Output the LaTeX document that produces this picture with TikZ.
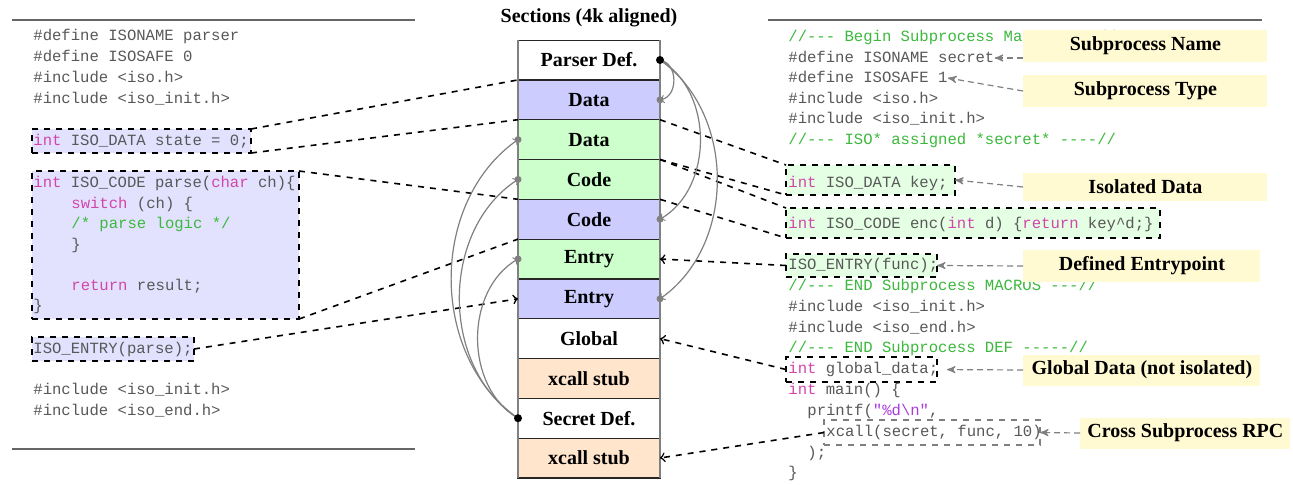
\documentclass[tikz,border=0pt]{standalone}
\usepackage{fontspec}
\setmainfont{Liberation Serif}
\setmonofont{Liberation Mono}
\usetikzlibrary{arrows,positioning}

\definecolor{pblue}{RGB}{204,204,255}
\definecolor{sgreen}{RGB}{204,255,204}
\definecolor{stubbg}{RGB}{255,229,204}
\definecolor{pboxbg}{RGB}{226,226,255}
\definecolor{sboxbg}{RGB}{228,255,228}
\definecolor{notebg}{RGB}{255,250,210}
\definecolor{codegray}{RGB}{88,88,88}
\definecolor{keyword}{RGB}{210,70,170}
\definecolor{comment}{RGB}{60,185,60}
\definecolor{strlit}{RGB}{170,60,220}

\newcommand{\codefont}{\fontsize{7.8}{10.35}\selectfont\ttfamily}
\newcommand{\ckw}[1]{\textcolor{keyword}{#1}}
\newcommand{\ccm}[1]{\textcolor{comment}{#1}}
\newcommand{\cstr}[1]{\textcolor{strlit}{#1}}

\begin{document}
\begin{tikzpicture}[
  x=0.5pt, y=-0.5pt,
  >=to,
  sect/.style={draw=black!85, semithick, minimum width=71pt, minimum height=19.9pt,
    inner sep=0, outer sep=0, font=\bfseries},
  code/.style={anchor=west, inner sep=0, font=\codefont, text=codegray,
    text height=6pt, text depth=2pt},
  region/.style={draw, thick, dashed, anchor=north west, inner sep=0, outer sep=0},
  note/.style={fill=notebg, anchor=west, inner sep=0, minimum height=16pt, font=\bfseries},
  link/.style={thick, dashed},
  call/.style={gray, semithick, ->},
  hint/.style={gray, semithick, dash pattern=on 3pt off 2pt, -stealth'},
  rule/.style={black!60, semithick}
  ]

  \useasboundingbox[fill=white] (0,0) rectangle (1293,484);

  % sections
  \node[sect] (pdef) at (589,60) {Parser Def.};
  \node[sect, fill=pblue, below=0pt of pdef] (pdata) {Data};
  \node[sect, fill=sgreen, below=0pt of pdata] (sdata) {Data};
  \node[sect, fill=sgreen, below=0pt of sdata] (scode) {Code};
  \node[sect, fill=pblue, below=0pt of scode] (pcode) {Code};
  \node[sect, fill=sgreen, below=0pt of pcode] (sentry) {Entry};
  \node[sect, fill=pblue, below=0pt of sentry] (pentry) {Entry};
  \node[sect, below=0pt of pentry] (glob) {Global};
  \node[sect, fill=stubbg, below=0pt of glob] (stubA) {xcall stub};
  \node[sect, below=0pt of stubA] (sdef) {Secret Def.};
  \node[sect, fill=stubbg, below=0pt of sdef] (stubB) {xcall stub};
  \node[font=\bfseries, above=3pt of pdef] (title) {Sections (4k aligned)};
  \draw[gray, semithick] (pdef.north west) -- (stubB.south west)
                         (pdef.north east) -- (stubB.south east);

  \draw[rule] (12,20) -- (415,20);
  \draw[rule] (12,449) -- (415,449);
  \draw[rule] (768,20) -- (1262,20);

  % parser source
  \node[region, fill=pboxbg, minimum width=109.5pt, minimum height=12pt] (bpdata) at (32,129) {};
  \node[region, fill=pboxbg, minimum width=133.5pt, minimum height=74pt] (bpcode) at (32,171) {};
  \node[region, fill=pboxbg, minimum width=81pt, minimum height=12pt] (bpentry) at (32,337) {};

  \node[code] (l1) at (33,36) {\#define ISONAME parser};
  \node[code] (l2) at (33,57) {\#define ISOSAFE 0};
  \node[code] (l3) at (33,78) {\#include <iso.h>};
  \node[code] (l4) at (33,99) {\#include <iso\_init.h>};
  \node[code] (l5) at (33,141) {\ckw{int} ISO\_DATA state = 0;};
  \node[code] (l6) at (33,183) {\ckw{int} ISO\_CODE parse(\ckw{char} ch)\{};
  \node[code] (l7) at (71,204) {\ckw{switch} (ch) \{};
  \node[code] (l8) at (71,224) {\ccm{/* parse logic */}};
  \node[code] (l9) at (71,245) {\}};
  \node[code] (l10) at (71,286) {\ckw{return} result;};
  \node[code] (l11) at (33,306) {\}};
  \node[code] (l12) at (33,349) {ISO\_ENTRY(parse);};
  \node[code] (l13) at (33,390) {\#include <iso\_init.h>};
  \node[code] (l14) at (33,411) {\#include <iso\_end.h>};

  % secret source
  \node[region, fill=sboxbg, minimum width=84.5pt, minimum height=15pt] (bsdata) at (786,165) {};
  \node[region, fill=sboxbg, minimum width=187pt, minimum height=15pt] (bscode) at (786,208) {};
  \node[region, fill=sboxbg, minimum width=75.5pt, minimum height=11.5pt] (bsentry) at (786,254) {};
  \node[region, minimum width=75.5pt, minimum height=12.5pt] (bglob) at (786,357) {};
  \node[region, draw=gray, semithick, minimum width=108pt, minimum height=12.5pt] (bxcall) at (824,420) {};

  \node[code] (r1) at (788,37) {\ccm{//--- Begin Subprocess Macros ---//}};
  \node[code] (r2) at (788,58) {\#define ISONAME secret};
  \node[code] (r3) at (788,78) {\#define ISOSAFE 1};
  \node[code] (r4) at (788,99) {\#include <iso.h>};
  \node[code] (r5) at (788,119) {\#include <iso\_init.h>};
  \node[code] (r6) at (788,140) {\ccm{//--- ISO* assigned *secret* ----//}};
  \node[code] (r7) at (788,183) {\ckw{int} ISO\_DATA key;};
  \node[code] (r8) at (788,224) {\ckw{int} ISO\_CODE enc(\ckw{int} d) \{\ckw{return} key\textasciicircum d;\}};
  \node[code] (r9) at (788,265) {ISO\_ENTRY(func);};
  \node[code] (r10) at (788,286) {\ccm{//--- END Subprocess MACROS ---//}};
  \node[code] (r11) at (788,307) {\#include <iso\_init.h>};
  \node[code] (r12) at (788,328) {\#include <iso\_end.h>};
  \node[code] (r13) at (788,348) {\ccm{//--- END Subprocess DEF -----//}};
  \node[code] (r14) at (788,369) {\ckw{int} global\_data;};
  \node[code] (r15) at (788,390) {\ckw{int} main() \{};
  \node[code] (r16) at (807,411) {printf(\cstr{"\%d\textbackslash n"},};
  \node[code] (r17) at (826,432) {xcall(secret, func, 10)};
  \node[code] (r18) at (807,453) {);};
  \node[code] (r19) at (788,473) {\}};

  % placement of the sections
  \path[link] (bpdata.north east) edge (pdata.north west)
              (bpdata.south east) edge (pdata.south west)
              (bpcode.north east) edge (pcode.north west)
              (bpcode.south east) edge (pcode.south west);
  \path[link,->] (bpentry.east) edge (pentry.west);
  \path[link] (sdata.north east) edge (bsdata.north west)
              (sdata.south east) edge (bsdata.south west)
              (scode.north east) edge (bscode.north west)
              (scode.south east) edge (bscode.south west);
  \path[link,->] (bsentry.west) edge (sentry.east);
  \path[link,->] (bglob.west) edge (glob.east);
  \path[link,->] (bxcall.west) edge (stubB.east);

  % definitions pointing at their sections
  \draw[call] (pdef.east) to[bend left=80, looseness=1.2] (pdata.east);
  \draw[call] (pdef.east) to[bend left=60] (pcode.east);
  \draw[call] (pdef.east) to[bend left=55] (pentry.east);
  \draw[call] (sdef.west) to[bend left=60] (sentry.west);
  \draw[call] (sdef.west) to[bend left=57] (scode.west);
  \draw[call] (sdef.west) to[bend left=55] (sdata.west);
  \fill (pdef.east) circle (2pt);
  \fill (sdef.west) circle (2pt);
  \foreach \n in {pdata, pcode, pentry} \fill[gray] (\n.east) circle (1.75pt);
  \foreach \n in {sdata, scode, sentry} \fill[gray] (\n.west) circle (1.75pt);

  % notes
  \node[note, minimum width=122pt] (nname) at (1023,46) {Subprocess Name};
  \node[note, minimum width=122pt] (ntype) at (1023,91) {Subprocess Type};
  \node[note, minimum width=122pt, minimum height=14pt] (ndata) at (1023,187) {Isolated Data};
  \node[note, minimum width=118.5pt] (nentry) at (1023,266) {Defined Entrypoint};
  \node[note, minimum width=118.5pt, minimum height=15.5pt] (nglob) at (1023,370) {Global Data (not isolated)};
  \node[note, minimum width=105pt, minimum height=15.5pt] (nrpc) at (1080,433) {Cross Subprocess RPC};

  \draw[hint] (nname.west |- r2.east) -- (r2.east);
  \draw[hint] (ntype.west) -- (r3.east);
  \draw[hint] (ndata.west) -- (bsdata.east);
  \draw[hint] (nentry.west) -- (bsentry.east);
  \draw[hint, shorten >=5pt] (nglob.west) -- (bglob.east);
  \draw[hint] (nrpc.west) -- (bxcall.east);
\end{tikzpicture}
\end{document}
